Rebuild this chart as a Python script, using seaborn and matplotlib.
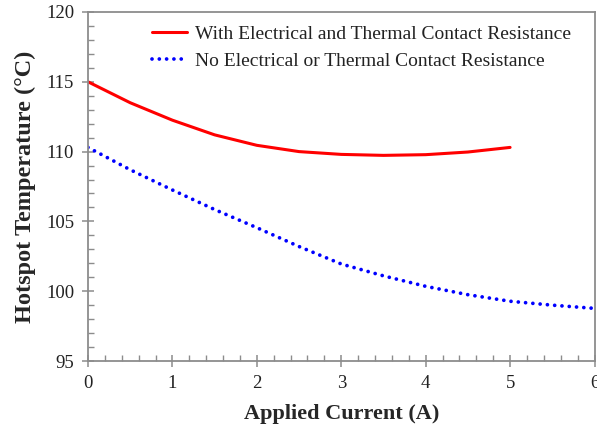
import numpy as np
import pandas as pd
import matplotlib
matplotlib.use("Agg")
import matplotlib.pyplot as plt
from matplotlib.ticker import MultipleLocator
import seaborn as sns

# Hotspot temperature vs applied current
current_with = [0.0, 0.5, 1.0, 1.5, 2.0, 2.5, 3.0, 3.5, 4.0, 4.5, 5.0]
temp_with = [115.0, 113.5, 112.25, 111.2, 110.45, 110.0, 109.8, 109.73, 109.78, 109.97, 110.3]

current_without = [0.0, 0.5, 1.0, 1.5, 2.0, 2.5, 3.0, 3.5, 4.0, 4.5, 5.0, 5.5, 6.0]
temp_without = [110.3, 108.7, 107.25, 105.85, 104.55, 103.2, 101.95, 101.1, 100.35, 99.75, 99.28, 99.0, 98.77]

label_with = "With Electrical and Thermal Contact Resistance"
label_without = "No Electrical or Thermal Contact Resistance"

df = pd.concat([
    pd.DataFrame({"Current": current_with, "Temp": temp_with, "Case": label_with}),
    pd.DataFrame({"Current": current_without, "Temp": temp_without, "Case": label_without}),
], ignore_index=True)

sns.set_style("white")
plt.rcParams["font.family"] = ["Liberation Serif", "DejaVu Serif"]
plt.rcParams["lines.scale_dashes"] = False

fig = plt.figure(figsize=(5.97, 4.29), dpi=100)
ax = fig.add_axes([88 / 597, 1 - 361 / 429, (594.5 - 88) / 597, (361 - 12) / 429])

sns.lineplot(data=df[df.Case == label_with], x="Current", y="Temp", ax=ax,
             color="#ff0000", lw=2.2, label=label_with)
sns.lineplot(data=df[df.Case == label_without], x="Current", y="Temp", ax=ax,
             color="#0000ff", lw=2.7, label=label_without)
ax.lines[1].set_dashes((0.01, 5.25))
ax.lines[1].set_dash_capstyle("round")

ax.set_xlim(0, 6)
ax.set_ylim(95, 120)
ax.xaxis.set_major_locator(MultipleLocator(1))
ax.xaxis.set_minor_locator(MultipleLocator(0.2))
ax.yaxis.set_major_locator(MultipleLocator(5))
ax.yaxis.set_minor_locator(MultipleLocator(1))

for s in ax.spines.values():
    s.set_color("#8c8c8c")
    s.set_linewidth(1.3)

ax.tick_params(which="major", direction="inout", length=8, width=1.1, color="#8c8c8c",
               labelsize=13.5, pad=6, labelcolor="#222222")
ax.tick_params(which="minor", direction="in", length=4, width=1.0, color="#8c8c8c")
ax.tick_params(top=False, right=False, which="both")
ax.tick_params(axis="x", which="both", bottom=True)
ax.tick_params(axis="y", which="both", left=True)

ax.set_xlabel("Applied Current (A)", fontsize=16, fontweight="bold", labelpad=9)
ax.set_ylabel("Hotspot Temperature (°C)", fontsize=17.5, fontweight="bold", labelpad=7)

leg = ax.legend(loc="upper left", bbox_to_anchor=(0.1264, 0.962), frameon=False,
                fontsize=14, handlelength=1.8, handletextpad=0.4, labelspacing=0.5,
                borderpad=0, borderaxespad=0)
for t in leg.get_texts():
    t.set_color("#222222")

fig.savefig("out.png", dpi=100)
